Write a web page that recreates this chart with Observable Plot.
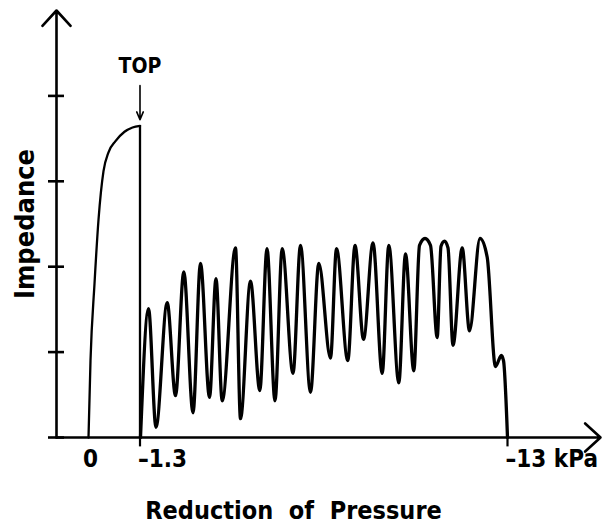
<!DOCTYPE html>
<html>
<head>
<meta charset="utf-8">
<script src="https://cdn.jsdelivr.net/npm/d3@7"></script>
<script src="https://cdn.jsdelivr.net/npm/@observablehq/plot@0.6"></script>
<style>
  html, body { margin: 0; padding: 0; background: #fff; }
</style>
</head>
<body>
<div id="chart"></div>
<script>
// Trace position (arbitrary units along the pressure axis) and impedance (arbitrary units)
const riseX = [32, 34, 38, 42, 47, 52, 59, 68, 76, 83.5];
const riseY = [0, 0.9, 1.8, 2.55, 3.12, 3.34, 3.47, 3.58, 3.63, 3.65];

const oscX = [84, 92, 99.5, 110.7, 119, 127.3, 136.5, 144, 153, 159.5, 165.7, 179, 184, 194, 203.3,
  210.5, 218.5, 225.7, 236.5, 244, 254, 262.3, 274, 280, 291.3, 298.5, 307, 316.5, 325.7, 332.3,
  342.3, 349, 357.3, 363, 368.5, 374, 380.7, 384.5, 388, 391.5, 396.5, 405.7, 413, 423.5, 430.7,
  439, 444.8, 447, 451];
const oscY = [0, 1.51, 0.12, 1.58, 0.49, 1.94, 0.29, 2.04, 0.47, 1.86, 0.43, 2.22, 0.22, 1.83, 0.55,
  2.21, 0.43, 2.21, 0.75, 2.25, 0.53, 2.04, 0.93, 2.21, 0.90, 2.25, 1.15, 2.28, 0.75, 2.25,
  0.64, 2.15, 0.78, 2.25, 2.33, 2.25, 1.17, 2.24, 2.30, 2.22, 1.08, 2.22, 1.25, 2.33, 2.11,
  0.83, 0.96, 0.90, 0];

const xTickValues = [32, 83.5, 451];
const xTickLabels = ["0", "–1.3", "–13 kPa"];
const yTickValues = [0, 1, 2, 3, 4];
const xDomain = [0, 544];
const yDomain = [0, 5];
const topLabel = "TOP";
const topArrowY = [4.12, 3.72];
const xTitle = "Reduction  of  Pressure";
const yTitle = "Impedance";

const rise = riseX.map((x, i) => ({x, y: riseY[i]}));
const osc = oscX.map((x, i) => ({x, y: oscY[i]}));
const topPoint = rise[rise.length - 1];
const ticks = xTickValues.map((x, i) => ({x, label: xTickLabels[i]}));

const font = "'DejaVu Sans Condensed', 'DejaVu Sans', sans-serif";

const chart = Plot.plot({
  width: 611,
  height: 524,
  marginLeft: 56,
  marginRight: 11,
  marginTop: 10,
  marginBottom: 87,
  x: {domain: xDomain, axis: null},
  y: {domain: yDomain, axis: null},
  style: {fontFamily: font, background: "#fff", color: "#000"},
  marks: [
    Plot.arrow([{x1: xDomain[0], y1: yDomain[0], x2: xDomain[0], y2: yDomain[1]},
                {x1: xDomain[0], y1: yDomain[0], x2: xDomain[1], y2: yDomain[0]}],
      {x1: "x1", y1: "y1", x2: "x2", y2: "y2", stroke: "#000", strokeWidth: 2.6, headLength: 12, headAngle: 85}),
    Plot.ruleY(yTickValues, {y: d => d, x1: xDomain[0] - 8, x2: xDomain[0] + 8, stroke: "#000", strokeWidth: 2.6}),
    Plot.ruleX(xTickValues.slice(1), {x: d => d, y1: 0, y2: -0.11, stroke: "#000", strokeWidth: 2.2}),
    Plot.text(ticks.slice(0, 1), {x: "x", y: 0, text: "label", dy: 22, dx: 2, fontSize: 24, fontWeight: "bold", textAnchor: "middle", fill: "#000"}),
    Plot.text(ticks.slice(1), {x: "x", y: 0, text: "label", dy: 22, dx: -2, fontSize: 24, fontWeight: "bold", textAnchor: "start", fill: "#000"}),
    Plot.text([xTitle], {frameAnchor: "bottom", text: d => d, dx: -35, dy: 81, fontSize: 25, fontWeight: "bold", textAnchor: "middle", fill: "#000"}),
    Plot.text([yTitle], {frameAnchor: "left", text: d => d, dx: -31, rotate: -90, fontSize: 27, fontWeight: "bold", textAnchor: "middle", fill: "#000"}),
    Plot.line(rise, {x: "x", y: "y", curve: "monotone-x", stroke: "#000", strokeWidth: 2.3}),
    Plot.ruleX([topPoint], {x: "x", y1: 0, y2: "y", stroke: "#000", strokeWidth: 2.3}),
    Plot.line(osc, {x: "x", y: "y", curve: "monotone-x", stroke: "#000", strokeWidth: 3.3, strokeLinejoin: "round"}),
    Plot.arrow([topPoint], {x1: "x", x2: "x", y1: () => topArrowY[0], y2: () => topArrowY[1], stroke: "#000", strokeWidth: 1.6, headLength: 8, headAngle: 45}),
    Plot.text([topPoint], {x: "x", y: () => topArrowY[0], text: () => topLabel, dy: -19, fontSize: 21, fontWeight: "bold", fill: "#000"})
  ]
});
document.getElementById("chart").appendChild(chart);
</script>
</body>
</html>
